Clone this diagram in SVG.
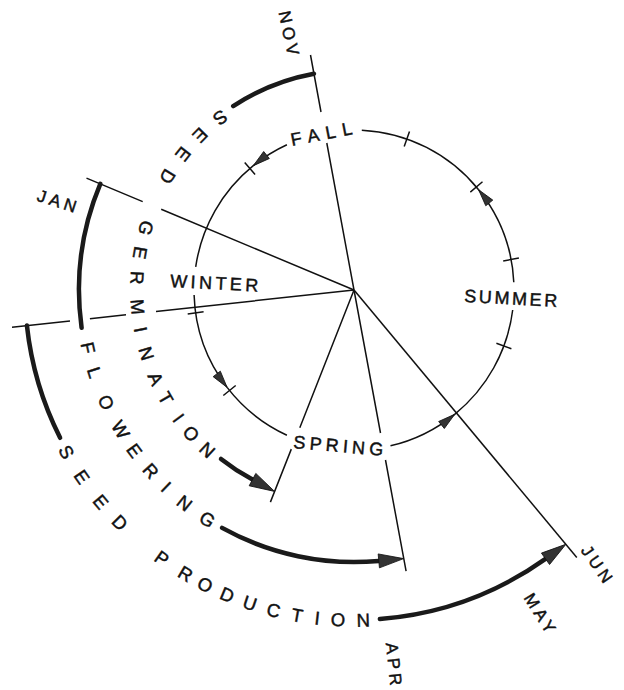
<svg xmlns="http://www.w3.org/2000/svg" width="624" height="690" viewBox="0 0 624 690">
<style>
.ln{stroke:#111;stroke-width:1.5;fill:none}
.arc{stroke:#111;stroke-width:1.5;fill:none}
.thick{stroke:#1a1a1a;stroke-width:4.5;fill:none;stroke-linecap:round}
.tk{stroke:#111;stroke-width:1.5}
text{font-family:"Liberation Sans",Arial,sans-serif;fill:#111;stroke:#111;stroke-width:0.45}
.big{font-size:18.5px;text-anchor:middle}
.sea{font-size:18px}
.mon{font-size:17px;text-anchor:middle;letter-spacing:4px}
</style>
<defs>
<marker id="sa" markerUnits="userSpaceOnUse" markerWidth="20" markerHeight="12" viewBox="-18 -6 20 12" refX="0" refY="0" orient="auto">
<path d="M-17,-4.5 L0,0 L-17,4.5 Z" fill="#333" stroke="#111" stroke-width="0.8"/>
</marker>
<marker id="ba" markerUnits="userSpaceOnUse" markerWidth="30" markerHeight="18" viewBox="-2 -9 30 18" refX="0" refY="0" orient="auto">
<path d="M0,-7 L25,0 L0,7 Z" fill="#333" stroke="#111" stroke-width="0.8"/>
</marker>
</defs>
<rect width="624" height="690" fill="#fff"/>

<g id="connectors">
<path class="ln" d="M310.5,55 L321,112 M326.8,143 L354,290 L380.5,433 M385.5,460 L406.1,571.2"/>
<path class="ln" d="M86.5,178.1 L142.7,201.6 M161.2,209.3 L354,290"/>
<path class="ln" d="M12,327.2 L70,320.9 M89.9,318.7 L126,314.8 M156,311.5 L354,290"/>
<path class="ln" d="M354,290 L299.8,427.7 M291.3,449.1 L270.4,502.1"/>
<path class="ln" d="M354,290 L576.8,557.4"/>
<path class="thick" d="M313.9,73.7 A220,220 0 0 0 233.2,106.1"/>
<path class="thick" d="M100.3,183.9 A275,275 0 0 0 81.6,327.8"/>
<path class="thick" d="M26.9,325.5 A329,329 0 0 0 60.1,437.8"/>
<path class="thick" d="M221,459 A215,215 0 0 0 252.5,479.6" marker-end="url(#ba)"/>
<path class="thick" d="M222.1,527.9 A272,272 0 0 0 378.8,560.9" marker-end="url(#ba)"/>
<path class="thick" d="M379.9,619 A330,330 0 0 0 545.5,558.8" marker-end="url(#ba)"/>
</g>

<g id="cycle">
<path class="arc" d="M513.8,282.2 A160,160 0 0 0 478.6,189.7" marker-end="url(#sa)"/>
<path class="arc" d="M478.6,189.7 A160,160 0 0 0 361.8,130.2"/>
<path class="arc" d="M390.5,445.8 A160,160 0 0 0 454.7,414.3" marker-end="url(#sa)"/>
<path class="arc" d="M454.7,414.3 A160,160 0 0 0 512.7,310"/>
<path class="arc" d="M194.1,295 A160,160 0 0 0 227.1,387.4" marker-end="url(#sa)"/>
<path class="arc" d="M227.1,387.4 A160,160 0 0 0 286.9,435.2"/>
<path class="arc" d="M286.9,144.8 A160,160 0 0 0 253.3,165.7" marker-end="url(#sa)"/>
<path class="arc" d="M253.3,165.7 A160,160 0 0 0 195.7,266.9"/>
<path class="tk" d="M255.1,174.6 L244.7,162.4 M404.2,146.5 L409.5,131.4 M470.3,192.1 L482.5,181.8 M503.2,261 L518.9,257.9 M496.4,343.2 L511.4,348.8 M203.6,311.7 L187.7,314 M235.7,385.5 L223.3,395.5"/>
</g>

<g id="fall"><text class="sea" x="292" y="146" letter-spacing="6.7" transform="rotate(-11 292 146)">FALL</text></g>
<g id="winter"><text class="sea" x="170" y="287" letter-spacing="3.4" transform="rotate(3 170 287)">WINTER</text></g>
<g id="summer"><text class="sea" x="464" y="302" letter-spacing="2.6" transform="rotate(3 464 302)">SUMMER</text></g>
<g id="spring"><text class="sea" x="293" y="448" letter-spacing="4.2" transform="rotate(5 293 448)">SPRING</text></g>

<g id="nov"><text class="mon" x="2" y="6" transform="translate(289,33) rotate(78)">NOV</text></g>
<g id="jan"><text class="mon" x="2" y="6" transform="translate(57,201) rotate(18)">JAN</text></g>
<g id="apr"><text class="mon" x="2" y="6" transform="translate(394,664) rotate(84)">APR</text></g>
<g id="may"><text class="mon" x="2" y="6" transform="translate(540,613) rotate(58)">MAY</text></g>
<g id="jun"><text class="mon" x="2" y="6" transform="translate(597,564) rotate(55)">JUN</text></g>

<g id="seed">
<text class="big" y="6.6" transform="translate(220.4,117.7) rotate(142.2)">S</text>
<text class="big" y="6.6" transform="translate(200.4,135.3) rotate(135.2)">E</text>
<text class="big" y="6.6" transform="translate(183.4,154.3) rotate(128.5)">E</text>
<text class="big" y="6.6" transform="translate(167.7,176.7) rotate(121.3)">D</text>
</g>

<g id="germination">
<text class="big" y="6.6" transform="translate(146,228) rotate(106.6)">G</text>
<text class="big" y="6.6" transform="translate(140.2,252.7) rotate(99.9)">E</text>
<text class="big" y="6.6" transform="translate(137.3,277.9) rotate(93.2)">R</text>
<text class="big" y="6.6" transform="translate(137.7,307) rotate(85.5)">M</text>
<text class="big" y="6.6" transform="translate(140.6,329.5) rotate(79.5)">I</text>
<text class="big" y="6.6" transform="translate(146.5,353.4) rotate(73)">N</text>
<text class="big" y="6.6" transform="translate(155.9,378.6) rotate(65.9)">A</text>
<text class="big" y="6.6" transform="translate(165.9,398.2) rotate(60.1)">T</text>
<text class="big" y="6.6" transform="translate(178.7,417.9) rotate(53.9)">I</text>
<text class="big" y="6.6" transform="translate(191.2,433.5) rotate(48.6)">O</text>
<text class="big" y="6.6" transform="translate(207.4,450) rotate(42.5)">N</text>
</g>

<g id="flowering">
<text class="big" y="6.6" transform="translate(88.2,347.9) rotate(77.7)">F</text>
<text class="big" y="6.6" transform="translate(94.7,372.3) rotate(72.4)">L</text>
<text class="big" y="6.6" transform="translate(106.3,402.4) rotate(65.6)">O</text>
<text class="big" y="6.6" transform="translate(120.6,429.7) rotate(59.1)">W</text>
<text class="big" y="6.6" transform="translate(134.5,450.6) rotate(53.8)">E</text>
<text class="big" y="6.6" transform="translate(150.9,470.9) rotate(48.3)">R</text>
<text class="big" y="6.6" transform="translate(166.1,486.7) rotate(43.7)">I</text>
<text class="big" y="6.6" transform="translate(184.7,502.9) rotate(38.5)">N</text>
<text class="big" y="6.6" transform="translate(207.4,519.2) rotate(32.6)">G</text>
</g>

<g id="seed-production">
<text class="big" y="6.6" transform="translate(66.5,452) rotate(60.6)">S</text>
<text class="big" y="6.6" transform="translate(82,476.9) rotate(55.5)">E</text>
<text class="big" y="6.6" transform="translate(100.8,501.7) rotate(50.1)">E</text>
<text class="big" y="6.6" transform="translate(119.8,522.5) rotate(45.2)">D</text>
<text class="big" y="6.6" transform="translate(161.9,558.3) rotate(35.6)">P</text>
<text class="big" y="6.6" transform="translate(185.5,573.8) rotate(30.7)">R</text>
<text class="big" y="6.6" transform="translate(205.2,584.6) rotate(26.8)">O</text>
<text class="big" y="6.6" transform="translate(227.2,594.7) rotate(22.6)">D</text>
<text class="big" y="6.6" transform="translate(249.9,603.1) rotate(18.4)">U</text>
<text class="big" y="6.6" transform="translate(273.6,610.1) rotate(14.1)">C</text>
<text class="big" y="6.6" transform="translate(297.3,615.1) rotate(9.9)">T</text>
<text class="big" y="6.6" transform="translate(317.2,618) rotate(6.4)">I</text>
<text class="big" y="6.6" transform="translate(337.9,619.6) rotate(2.8)">O</text>
<text class="big" y="6.6" transform="translate(363.2,619.9) rotate(-1.6)">N</text>
</g>
</svg>
